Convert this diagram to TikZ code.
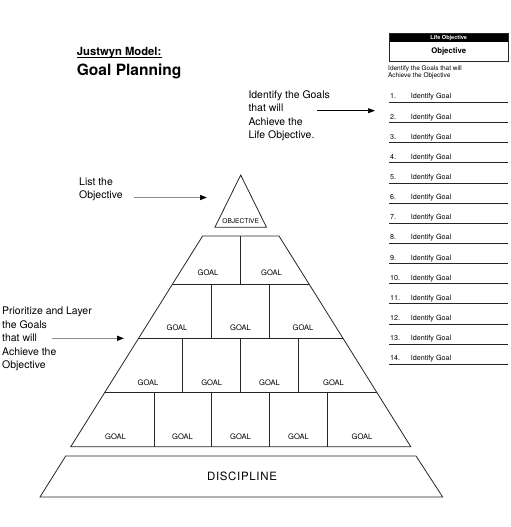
\documentclass[tikz,border=0pt]{standalone}
\usepackage{fontspec}
\setmainfont{TeX Gyre Heros}
\usetikzlibrary{arrows.meta}
\begin{document}
\begin{tikzpicture}[x=1bp,y=-1bp,
  pyr/.style={draw=black!85, line width=0.8bp, line join=miter},
  goal/.style={font=\fontsize{7.6}{8}\selectfont, inner sep=0pt},
  note/.style={font=\fontsize{10.5}{13.5}\selectfont, align=left, anchor=north west, inner sep=0pt},
  grayarrow/.style={draw=black!45, line width=1.3bp, -{Triangle[length=7bp,width=5bp,black]}},
  blackarrow/.style={draw=black, line width=0.7bp, -{Triangle[length=7bp,width=5bp]}},
  item/.style={font=\fontsize{7.2}{8}\selectfont, anchor=base west, inner sep=0pt},
  rule/.style={draw=black!85, line width=0.8bp},
  ]
\useasboundingbox (0,0) rectangle (511,527);
\fill[white] (0,0) rectangle (511,527);

% ---- titles
\node[font=\bfseries\fontsize{11.3}{12}\selectfont, anchor=base west, inner sep=0pt] (jm) at (76.7,56) {Justwyn Model:};
\draw[line width=0.7bp] ([yshift=-1.7bp]jm.base west) -- ([yshift=-1.7bp]jm.base east);
\node[font=\bfseries\fontsize{15.6}{17}\selectfont, anchor=base west, inner sep=0pt] (gp) at (76.7,75.5) {Goal Planning};

% ---- annotations
\node[note] (n1) at (248.3,90.5) {Identify the Goals\\that will\\Achieve the\\Life Objective.};
\coordinate (a1s) at (317.3,110.7);
\coordinate (a1e) at (375,110.7);
\draw[blackarrow] (a1s) -- (a1e);

\node[note] (n2) at (79,177.5) {List the\\Objective};
\coordinate (a2s) at (134,197.5);
\coordinate (a2e) at (207,197.5);
\draw[grayarrow] (a2s) -- (a2e);

\node[note] (n3) at (2,307) {Prioritize and Layer\\the Goals\\that will\\Achieve the\\Objective};
\coordinate (a3s) at (51.7,338.3);
\coordinate (a3e) at (124,338.3);
\draw[grayarrow] (a3s) -- (a3e);

% ---- top triangle
\draw[pyr] (240.7,175) -- (266.5,227.3) -- (214.9,227.3) -- cycle;
\node[goal, font=\fontsize{6.6}{7}\selectfont] (obj) at (240.7,221.2) {OBJECTIVE};

% ---- pyramid
\draw[pyr] (202.6,236) -- (279.0,236) -- (410.8,446.7) -- (70.8,446.7) -- cycle;
\draw[pyr] (172.3,284.5) -- (309.3,284.5);
\draw[pyr] (138.5,338.5) -- (343.1,338.5);
\draw[pyr] (104.6,392.7) -- (377.0,392.7);
% dividers
\draw[pyr] (240.6,236) -- (240.6,284.5);
\draw[pyr] (211.7,284.5) -- (211.7,338.5);
\draw[pyr] (269.5,284.5) -- (269.5,338.5);
\draw[pyr] (182.8,338.5) -- (182.8,392.7);
\draw[pyr] (240.6,338.5) -- (240.6,392.7);
\draw[pyr] (298.4,338.5) -- (298.4,392.7);
\draw[pyr] (153.9,392.7) -- (153.9,446.7);
\draw[pyr] (211.7,392.7) -- (211.7,446.7);
\draw[pyr] (269.5,392.7) -- (269.5,446.7);
\draw[pyr] (327.3,392.7) -- (327.3,446.7);
% goal labels
\node[goal] (g11) at (208,273) {GOAL};
\node[goal] (g12) at (271.5,273) {GOAL};
\node[goal] (g21) at (177,328) {GOAL};
\node[goal] (g22) at (240.5,328) {GOAL};
\node[goal] (g23) at (303,328) {GOAL};
\node[goal] (g31) at (148,382.7) {GOAL};
\node[goal] (g32) at (211.7,382.7) {GOAL};
\node[goal] (g33) at (269.5,382.7) {GOAL};
\node[goal] (g34) at (333.5,382.7) {GOAL};
\node[goal] (g41) at (115.5,437) {GOAL};
\node[goal] (g42) at (182.5,437) {GOAL};
\node[goal] (g43) at (240.5,437) {GOAL};
\node[goal] (g44) at (298.5,437) {GOAL};
\node[goal] (g45) at (362,437) {GOAL};

% ---- discipline
\draw[pyr] (65.7,456) -- (416,456) -- (442.7,497) -- (40,497) -- cycle;
\node[font=\fontsize{11.5}{12}\selectfont\addfontfeature{LetterSpace=6}, inner sep=0pt] (disc) at (242,476.5) {DISCIPLINE};

% ---- right panel
\fill[black] (389,33.3) rectangle (508.3,41.7);
\draw[rule] (389,33.3) rectangle (508.3,61.7);
\node[font=\bfseries\fontsize{5.6}{6}\selectfont, text=white, inner sep=0pt] (lo) at (448.7,37.6) {Life Objective};
\node[font=\bfseries\fontsize{7.8}{9}\selectfont, inner sep=0pt] (ob) at (448.7,51.2) {Objective};
\node[font=\fontsize{6.5}{6.4}\selectfont, align=left, anchor=north west, inner sep=0pt] (it) at (388,65.6) {Identify the Goals that will\\Achieve the Objective};

\foreach \k in {1,...,14} {
  \pgfmathsetmacro\yy{96.4+20.14*(\k-1)}
  \node[item] (num\k) at (390,\yy+2.6) {\k.};
  \node[item] (ig\k) at (410.7,\yy+2.6) {Identify Goal};
  \draw[rule] (389,\yy+6) -- (508.3,\yy+6);
}
\end{tikzpicture}
\end{document}
